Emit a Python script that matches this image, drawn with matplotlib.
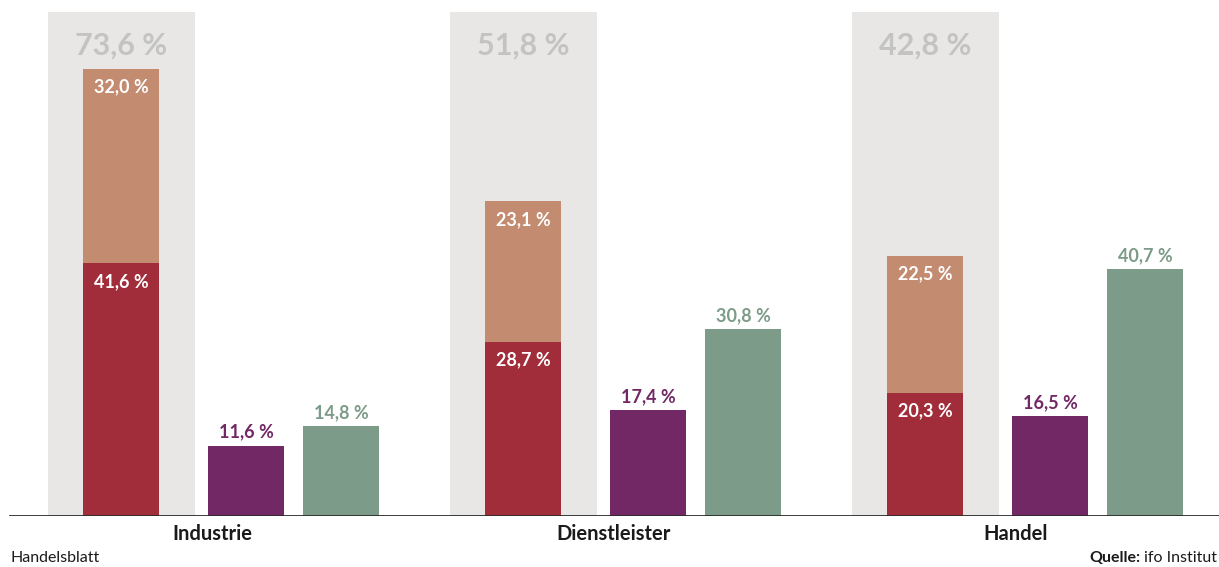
import matplotlib.pyplot as plt
from matplotlib.transforms import offset_copy

plt.rcParams['font.family'] = ['Lato', 'DejaVu Sans']

# Anteil der Unternehmen in Prozent
categories = ['Industrie', 'Dienstleister', 'Handel']
stack_bottom = [41.6, 28.7, 20.3]
stack_top = [32.0, 23.1, 22.5]
purple_vals = [11.6, 17.4, 16.5]
green_vals = [14.8, 30.8, 40.7]

C_PANEL = '#e8e7e6'
C_PANEL_TXT = '#c3c3c3'
C_TAN = '#c38b70'
C_RED = '#a22d3a'
C_PURPLE = '#712865'
C_GREEN = '#7c9b88'

W, H = 1219, 567
fig = plt.figure(figsize=(W / 100, H / 100), dpi=100)
base_px, top_px = 516, 12
ax = fig.add_axes([0, (H - base_px) / H, 1, (base_px - top_px) / H])
ax.set_xlim(0, W)
ax.set_ylim(0, 83)
ax.axis('off')

def fmt(v):
    return f'{v:.1f}'.replace('.', ',') + ' %'

step = 402
bw = 76
for i, cat in enumerate(categories):
    x0 = 121 + step * i
    total = stack_bottom[i] + stack_top[i]
    # grauer Hintergrund, Gesamtwert oben im Feld
    ax.bar(x0, 83, width=147, color=C_PANEL, zorder=0)
    ax.text(x0, 83, fmt(total), ha='center', va='center', color=C_PANEL_TXT,
            fontsize=22, fontweight='bold',
            transform=offset_copy(ax.transData, fig=fig, y=-34, units='dots'))

    ax.bar(x0, stack_bottom[i], width=bw, color=C_RED, zorder=2)
    ax.bar(x0, stack_top[i], bottom=stack_bottom[i], width=bw, color=C_TAN, zorder=2)
    below = offset_copy(ax.transData, fig=fig, y=-18, units='dots')
    ax.text(x0, stack_bottom[i], fmt(stack_bottom[i]), ha='center', va='center',
            color='white', fontsize=13, fontweight='bold', transform=below)
    ax.text(x0, total, fmt(stack_top[i]), ha='center', va='center',
            color='white', fontsize=13, fontweight='bold', transform=below)

    above = offset_copy(ax.transData, fig=fig, y=5, units='dots')
    for dx, vals, col in ((125, purple_vals, C_PURPLE), (220, green_vals, C_GREEN)):
        ax.bar(x0 + dx, vals[i], width=bw, color=col, zorder=2)
        ax.text(x0 + dx, vals[i], fmt(vals[i]), ha='center', va='bottom',
                color=col, fontsize=13, fontweight='bold', transform=above)

    fig.text((x0 + 91) / W, 1 - 534 / H, cat, ha='center', va='center',
             fontsize=14.5, fontweight='bold', color='#1a1a1a')

ax.axhline(0, xmin=10 / W, xmax=1, color='#2a2a2a', lw=2, zorder=3)

fig.text(10 / W, 1 - 558 / H, 'Handelsblatt', ha='left', va='center',
         fontsize=11.5, color='#1a1a1a')
src = fig.text(1217 / W, 1 - 558 / H, 'ifo Institut', ha='right', va='center',
               fontsize=11.5, color='#1a1a1a')
fig.canvas.draw()
bb = src.get_window_extent()
fig.text((bb.x0 - 4) / W, 1 - 558 / H, 'Quelle:', ha='right', va='center',
         fontsize=11.5, fontweight='bold', color='#1a1a1a')

fig.savefig('out.png', dpi=100, facecolor='white')
